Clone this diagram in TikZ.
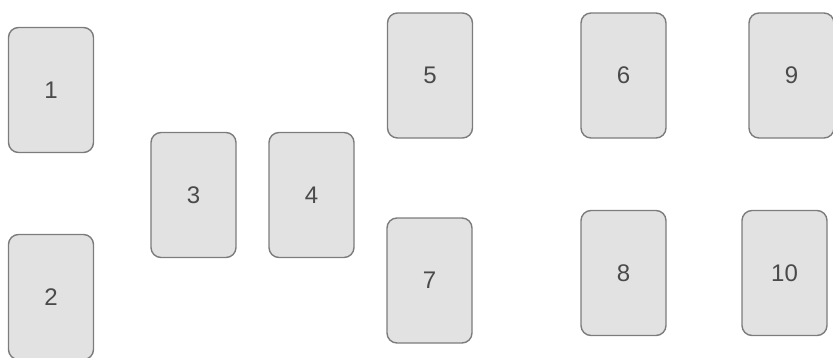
\documentclass[tikz,border=0pt]{standalone}
\usepackage{fontspec}
\setmainfont{Liberation Sans}
\usetikzlibrary{positioning}

\definecolor{cardfill}{HTML}{E2E2E2}
\definecolor{carddraw}{HTML}{7C7C7C}
\definecolor{cardtext}{HTML}{4A4A4A}

\tikzset{
  card/.style={draw=carddraw, fill=cardfill, line width=1.2pt,
    rounded corners=0.3cm, minimum width=2.55cm, minimum height=3.75cm,
    inner sep=0pt, text=cardtext, font=\fontsize{20.5}{24}\selectfont}
}

\begin{document}
\begin{tikzpicture}[x=0.03cm,y=-0.03cm]
\useasboundingbox (0,0) rectangle (833,357);
\clip (0,0) rectangle (833,357);

% left column
\node[card] (c1) at (51,90) {1};
\node[card] (c2) at (51,297) {2};

% middle pair
\node[card] (c3) at (193.5,195) {3};
\node[card] (c4) at (311.5,195) {4};

% right block
\node[card] (c5) at (430,75.5) {5};
\node[card] (c7) at (429.5,280.5) {7};
\node[card] (c6) at (623.5,75.5) {6};
\node[card] (c8) at (623.5,273) {8};
\node[card] (c9) at (791.5,75.5) {9};
\node[card] (c10) at (784.5,273) {10};
\end{tikzpicture}
\end{document}
